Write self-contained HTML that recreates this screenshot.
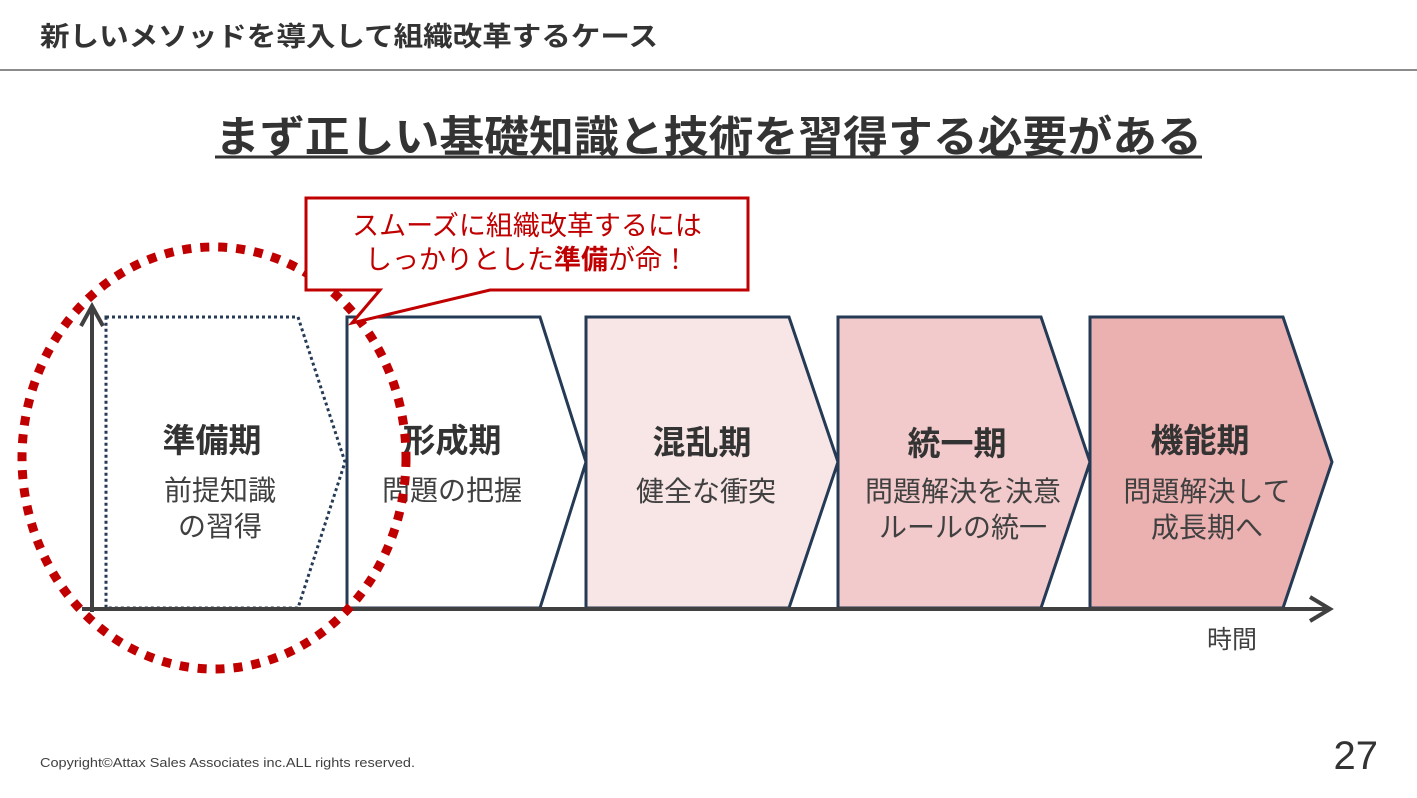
<!DOCTYPE html>
<html><head><meta charset="utf-8"><style>
html,body{margin:0;padding:0;background:#fff;}
svg{display:block;font-family:"Liberation Sans","Noto Sans CJK JP",sans-serif;}
</style></head><body>
<svg width="1417" height="798" viewBox="0 0 1417 798" xmlns="http://www.w3.org/2000/svg">
<text x="40" y="46" font-size="27" font-weight="bold" fill="#333" textLength="618" lengthAdjust="spacingAndGlyphs">新しいメソッドを導入して組織改革するケース</text>
<line x1="0" y1="70" x2="1417" y2="70" stroke="#8c8c8c" stroke-width="2"/>
<text x="215" y="152" font-size="43" font-weight="bold" fill="#333" textLength="987" lengthAdjust="spacingAndGlyphs">まず正しい基礎知識と技術を習得する必要がある</text>
<line x1="215" y1="157" x2="1202" y2="157" stroke="#333" stroke-width="3"/>

<polygon points="106,317 298,317 345,462 298,608 106,608" fill="none" stroke="#243a55" stroke-width="3" stroke-dasharray="3 3"/>
<polygon points="347,317 540,317 586,462 540,608 347,608" fill="#fff" stroke="#243a55" stroke-width="3"/>
<polygon points="586,317 789,317 838,462 789,608 586,608" fill="#f8e5e6" stroke="#243a55" stroke-width="3"/>
<polygon points="838,317 1041,317 1090,462 1041,608 838,608" fill="#f2cacb" stroke="#243a55" stroke-width="3"/>
<polygon points="1090,317 1283,317 1332,462 1283,608 1090,608" fill="#ebb0b0" stroke="#243a55" stroke-width="3"/>

<line x1="82" y1="609" x2="1328" y2="609" stroke="#404040" stroke-width="4"/>
<polyline points="1310,597 1330,609 1310,621" fill="none" stroke="#404040" stroke-width="4"/>
<line x1="92" y1="612" x2="92" y2="306" stroke="#404040" stroke-width="4"/>
<polyline points="81,326 92,306 103,326" fill="none" stroke="#404040" stroke-width="4"/>

<g font-size="33" font-weight="bold" fill="#333" text-anchor="middle">
<text x="212" y="452">準備期</text>
<text x="452" y="452">形成期</text>
<text x="702" y="454">混乱期</text>
<text x="957" y="455">統一期</text>
<text x="1200" y="452">機能期</text>
</g>
<g font-size="28" fill="#404040" text-anchor="middle">
<text x="220" y="500">前提知識</text>
<text x="220" y="536">の習得</text>
<text x="452" y="500">問題の把握</text>
<text x="706" y="501">健全な衝突</text>
<text x="963" y="501">問題解決を決意</text>
<text x="963" y="537">ルールの統一</text>
<text x="1207" y="501">問題解決して</text>
<text x="1207" y="537">成長期へ</text>
</g>
<text x="1232" y="648" font-size="25" fill="#404040" text-anchor="middle">時間</text>

<ellipse cx="214" cy="458" rx="192" ry="211" fill="none" stroke="#c00000" stroke-width="9" stroke-dasharray="9 9"/>

<path d="M306,198 L748,198 L748,290 L490,290 L352,323 L380,290 L306,290 Z" fill="#fff" stroke="#c00000" stroke-width="3"/>
<g font-size="27" fill="#c00000" text-anchor="middle">
<text x="527" y="235">スムーズに組織改革するには</text>
<text x="527" y="269">しっかりとした<tspan font-weight="bold">準備</tspan>が命！</text>
</g>

<text x="40" y="767" font-size="13" fill="#404040" textLength="375" lengthAdjust="spacingAndGlyphs">Copyright©Attax Sales Associates inc.ALL rights reserved.</text>
<text x="1378" y="769" font-size="40" fill="#333" text-anchor="end">27</text>
</svg>
</body></html>
